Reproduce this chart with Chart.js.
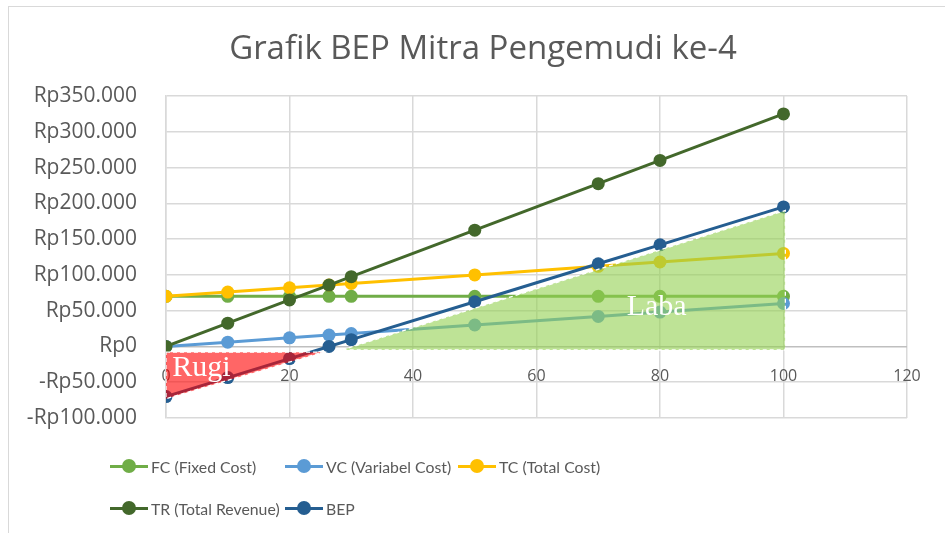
<!DOCTYPE html>
<html><head><meta charset="utf-8">
<script src="https://cdn.jsdelivr.net/npm/chart.js@4.4.1/dist/chart.umd.min.js"></script>
<style>
html,body{margin:0;padding:0;background:#fff;}
#wrap{position:relative;width:945px;height:533px;overflow:hidden;background:#fff;}
#frame{position:absolute;left:8px;top:6px;width:960px;height:560px;border-left:1.5px solid #d9d9d9;border-top:1.5px solid #d9d9d9;}
canvas{position:absolute;left:0;top:0;}
#title{position:absolute;left:283px;width:400px;top:27px;height:40px;line-height:40px;text-align:center;white-space:nowrap;display:flex;justify-content:center;font-family:"Open Sans";font-size:33px;color:#595959;}
.item{position:absolute;height:22px;display:flex;align-items:center;white-space:nowrap;font-family:"Lato";font-size:15.8px;color:#595959;}
.sw{position:relative;width:38px;height:14px;margin-right:3px;flex:none;}
.sw .ln{position:absolute;left:0;right:0;top:5.5px;height:3px;}
.sw .dot{position:absolute;left:12px;top:0;width:14px;height:14px;border-radius:50%;}
</style></head>
<body>
<div id="wrap">
  <div id="frame"></div>
  <canvas id="c" width="945" height="533"></canvas>
  <div id="title">Grafik BEP Mitra Pengemudi ke-4</div>
</div>
<script>
// ---- data ----
const units = [0, 10, 20, 26.4, 30, 50, 70, 80, 100];
const fixedCost = [70000, 70000, 70000, 70000, 70000, 70000, 70000, 70000, 70000];
const variableCost = [0, 6000, 12000, 15840, 18000, 30000, 42000, 48000, 60000];
const totalCost = [70000, 76000, 82000, 85840, 88000, 100000, 112000, 118000, 130000];
const totalRevenue = [0, 32500, 65000, 85800, 97500, 162500, 227500, 260000, 325000];
const bep = [-70000, -43500, -17000, 0, 9500, 62500, 115500, 142000, 195000];
const seriesNames = ['FC (Fixed Cost)', 'VC (Variabel Cost)', 'TC (Total Cost)', 'TR (Total Revenue)', 'BEP'];
const xTickValues = [0, 20, 40, 60, 80, 100, 120];
const yTickValues = [-100000, -50000, 0, 50000, 100000, 150000, 200000, 250000, 300000, 350000];
// shaded regions (polygon vertices in data units)
const rugiX = [0, 25.4, 0];
const rugiY = [-8000, -8000, -73000];
const labaX = [28.5, 100.3, 100.3];
const labaY = [-5000, 190000, -5000];

// ---- styles ----
const colors = ['#70AD47', '#5B9BD5', '#FFC000', '#43682B', '#255E91'];
const FONT = 'Open Sans';
const TXT = '#595959';

const seriesValues = [fixedCost, variableCost, totalCost, totalRevenue, bep];
const pts = (xa, ya) => xa.map((x, i) => ({x: x, y: ya[i]}));

const datasets = [];
datasets.push({data: pts([rugiX[2], rugiX[1]], [rugiY[2], rugiY[1]]), borderWidth: 0, pointRadius: 0,
  fill: {value: rugiY[0]}, backgroundColor: 'rgba(255,0,0,0.6)', order: 1});
datasets.push({data: pts(rugiX.concat([rugiX[0]]), rugiY.concat([rugiY[0]])), borderColor: '#ffffff', borderWidth: 1.3,
  borderDash: [4, 3], pointRadius: 0, fill: false, order: 0});
datasets.push({data: pts([labaX[0], labaX[1]], [labaY[0], labaY[1]]), borderWidth: 0, pointRadius: 0,
  fill: {value: labaY[0]}, backgroundColor: 'rgba(146,208,80,0.6)', order: 1});
datasets.push({data: pts(labaX.concat([labaX[0]]), labaY.concat([labaY[0]])), borderColor: '#ffffff', borderWidth: 1.3,
  borderDash: [4, 3], pointRadius: 0, fill: false, order: 0});
seriesValues.forEach((vals, i) => {
  datasets.push({label: seriesNames[i], data: pts(units, vals), borderColor: colors[i], backgroundColor: colors[i],
    borderWidth: 3, pointRadius: 6.5, pointBorderWidth: 0, pointBackgroundColor: colors[i], fill: false,
    tension: 0, order: 10 - i});
});

const fmt = v => (v < 0 ? '-' : '') + 'Rp' + String(Math.abs(v)).replace(/\B(?=(\d{3})+(?!\d))/g, '.');

const areaLabels = [
  {text: 'Rugi', x: 1.0, y: -42000},
  {text: 'Laba', x: 74.6, y: 44500}
];
const textPlugin = {
  id: 'areaText',
  afterDatasetsDraw(chart) {
    const {ctx, scales: {x, y}} = chart;
    ctx.save();
    ctx.fillStyle = '#ffffff';
    ctx.font = '30px "Liberation Serif"';
    ctx.textBaseline = 'alphabetic';
    ctx.textAlign = 'left';
    areaLabels.forEach(l => ctx.fillText(l.text, x.getPixelForValue(l.x), y.getPixelForValue(l.y)));
    ctx.restore();
  }
};

new Chart(document.getElementById('c'), {
  type: 'line',
  data: {datasets: datasets},
  plugins: [textPlugin],
  options: {
    responsive: false, animation: false, events: [],
    layout: {padding: {left: 0, right: 38, top: 96, bottom: 115}},
    plugins: {legend: {display: false}, tooltip: {enabled: false}, title: {display: false}},
    scales: {
      x: {
        type: 'linear', min: 0, max: 120, position: {y: 0},
        afterBuildTicks: s => { s.ticks = xTickValues.map(v => ({value: v})); },
        ticks: {color: TXT, font: {family: FONT, size: 16}, padding: 20, maxRotation: 0, autoSkip: false},
        grid: {color: '#d9d9d9', lineWidth: 1.5, drawTicks: false},
        border: {display: false},
        afterFit: s => { s.height = 0; }
      },
      y: {
        type: 'linear', min: -100000, max: 350000,
        afterBuildTicks: s => { s.ticks = yTickValues.map(v => ({value: v})); },
        ticks: {color: TXT, font: {family: FONT, size: 21}, padding: 29, callback: fmt, autoSkip: false},
        grid: {color: c => (c.tick && c.tick.value === 0 ? '#bfbfbf' : '#d9d9d9'), lineWidth: 1.5, drawTicks: false},
        border: {color: '#d9d9d9', width: 1.5},
        afterFit: s => { s.width = 166; }
      }
    }
  }
});

// ---- legend (HTML) ----
const legendPos = [[110, 455], [285, 455], [458, 455], [110, 497], [285, 497]];
const wrap = document.getElementById('wrap');
seriesNames.forEach((n, i) => {
  const d = document.createElement('div');
  d.className = 'item';
  d.style.left = legendPos[i][0] + 'px';
  d.style.top = legendPos[i][1] + 'px';
  d.innerHTML = '<span class="sw"><span class="ln" style="background:' + colors[i] + '"></span><span class="dot" style="background:' + colors[i] + '"></span></span><span>' + n + '</span>';
  wrap.appendChild(d);
});
</script>
</body></html>
